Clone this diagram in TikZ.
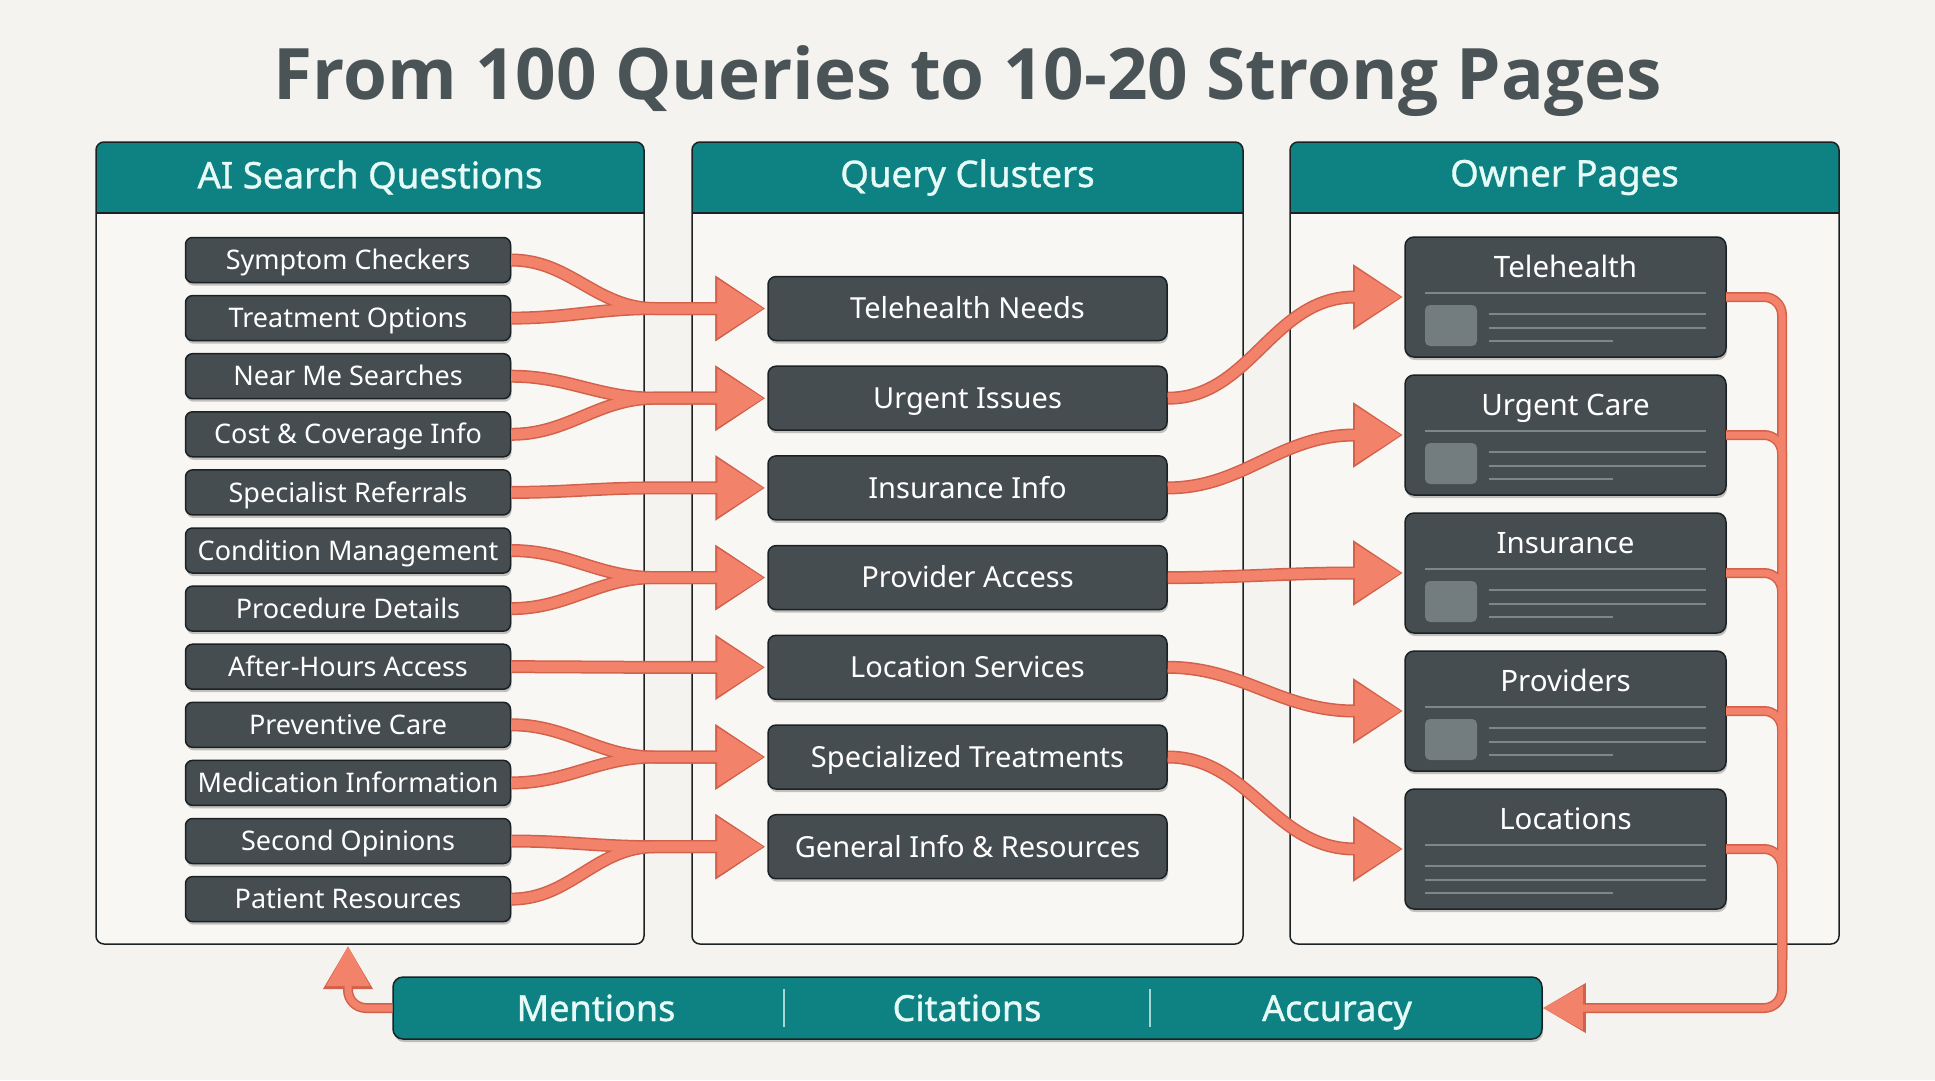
\documentclass[tikz,border=0pt]{standalone}
\usepackage{fontspec}
\setmainfont{Noto Sans}
\newfontfamily\titlefont{Open Sans}
\newfontfamily\medfont[FakeBold=1]{Noto Sans}
\usepackage{tikz}
\usetikzlibrary{arrows.meta,positioning,calc,shadows}
\definecolor{Paper}{HTML}{F4F3EF}
\definecolor{PanelFill}{HTML}{F8F7F3}
\definecolor{Teal}{HTML}{0E8282}
\definecolor{HeadText}{HTML}{E6FBF8}
\definecolor{Slate}{HTML}{454D50}
\definecolor{Rim}{HTML}{1C2224}
\definecolor{Salmon}{HTML}{F2836A}
\definecolor{SalmonDark}{HTML}{D2604A}
\definecolor{Ink}{HTML}{4A5356}
\definecolor{Sheet}{HTML}{7D8689}
\definecolor{Thumb}{HTML}{737C7F}

\begin{document}
\begin{tikzpicture}[x=1pt, y=-1pt]
\tikzset{panel/.style={fill=PanelFill, minimum height=802pt, outer sep=0pt, inner sep=0pt},
 rim/.style={draw=Rim, line width=1.5pt, rounded corners=8pt},
 head/.style={text=HeadText, font=\medfont\fontsize{36.6}{40}\selectfont},
 shade/.style={drop shadow={shadow xshift=1pt, shadow yshift=-3pt, opacity=0.22, fill=black}},
 qbox/.style={draw=Rim, line width=1.5pt, fill=Slate, rounded corners=7pt, text=white, shade, minimum width=325pt, minimum height=45pt, inner sep=0pt, font=\fontsize{27}{30}\selectfont, text height=21.3pt, text depth=2pt},
 cbox/.style={qbox, minimum width=399pt, minimum height=64pt, rounded corners=8pt, font=\fontsize{29}{32}\selectfont, text height=22.7pt, text depth=2pt},
 pbox/.style={draw=Rim, line width=1.5pt, fill=Slate, rounded corners=9pt, shade, minimum width=321pt, minimum height=120pt, outer sep=0pt},
 ptitle/.style={text=white, anchor=base, inner sep=0pt, font=\fontsize{29.5}{32}\selectfont},
 pline/.style={draw=Sheet, line width=2pt},
 thumb/.style={fill=Thumb, rounded corners=5pt},
 bartext/.style={text=HeadText, anchor=base, inner sep=0pt, font=\medfont\fontsize{36}{40}\selectfont},
 flow/.style={draw=Salmon, line width=10pt, shorten >=4pt, -{Triangle[length=46pt, width=56pt]}},
 flowrim/.style={draw=SalmonDark, line width=13pt, shorten >=2pt, -{Triangle[length=50pt, width=62pt]}},
 fb/.style={draw=Salmon, line width=7pt, rounded corners=18pt},
 fbrim/.style={draw=SalmonDark, line width=10pt, rounded corners=18pt},
 fbtip/.style={fb, -{Triangle[length=40pt, width=42pt]}},
 fbrimtip/.style={fbrim, -{Triangle[length=43pt, width=47pt]}}}
\fill[Paper] (0,0) rectangle (1935,1080);
\useasboundingbox (0,0) rectangle (1935,1080);
\node[font=\titlefont\bfseries\fontsize{71}{76}\selectfont, text=Ink, anchor=base] (title) at (967.5,99) {From 100 Queries to 10-20 Strong Pages};
% three columns
\foreach \nm/\cx/\pw/\txt in {lpanel/370/548/AI Search Questions, mpanel/967.5/551/Query Clusters, rpanel/1564.5/549/Owner Pages}{
  \node[panel, minimum width=\pw pt] (\nm) at (\cx,543) {};
  \fill[Teal] ($(\nm.north west)+(0,71)$) [rounded corners=8pt] -- (\nm.north west) -- (\nm.north east) [sharp corners] -- ($(\nm.north east)+(0,71)$) -- cycle;
  \draw[rim] (\nm.south west) rectangle (\nm.north east);
  \draw[Rim, line width=1.5pt] ($(\nm.north west)+(0,71)$) -- ($(\nm.north east)+(0,71)$);
  \node[head] (\nm-head) at ($(\nm.north)+(0,35.5)$) {\txt};
}
% questions
\foreach \txt [count=\i] in {Symptom Checkers, Treatment Options, Near Me Searches, Cost \& Coverage Info, Specialist Referrals, Condition Management, Procedure Details, After-Hours Access, Preventive Care, Medication Information, Second Opinions, Patient Resources}
  \node[qbox] (q\i) at (348,{260+(\i-1)*58.1}) {\txt};
% clusters
\foreach \txt [count=\i] in {Telehealth Needs, Urgent Issues, Insurance Info, Provider Access, Location Services, Specialized Treatments, General Info \& Resources}
  \node[cbox] (c\i) at (967.5,{308.5+(\i-1)*89.7}) {\txt};
% owner pages
\foreach \txt [count=\i] in {Telehealth, Urgent Care, Insurance, Providers, Locations}{
  \node[pbox] (p\i) at (1565.5,{297+(\i-1)*138}) {};
  \node[ptitle] (p\i-title) at ($(p\i.north)+(0,40)$) {\txt};
  \draw[pline] ($(p\i.north west)+(20,56)$) -- ($(p\i.north east)+(-20,56)$);
  \ifnum\i<5
    \fill[thumb] ($(p\i.north west)+(20,68)$) rectangle ($(p\i.north west)+(72,109)$);
    \draw[pline] ($(p\i.north west)+(84,77)$) -- ($(p\i.north east)+(-20,77)$);
    \draw[pline] ($(p\i.north west)+(84,91)$) -- ($(p\i.north east)+(-20,91)$);
    \draw[pline] ($(p\i.north west)+(84,104)$) -- ($(p\i.north west)+(208,104)$);
  \else
    \draw[pline] ($(p\i.north west)+(20,77)$) -- ($(p\i.north east)+(-20,77)$);
    \draw[pline] ($(p\i.north west)+(20,91)$) -- ($(p\i.north east)+(-20,91)$);
    \draw[pline] ($(p\i.north west)+(20,104)$) -- ($(p\i.north west)+(208,104)$);
  \fi
}
% metrics bar
\node[draw=Rim, line width=1.5pt, fill=Teal, rounded corners=10pt, minimum width=1149pt, minimum height=62pt, shade] (bar) at (967.5,1008) {};
\node[bartext] (mentions) at (596,1021) {Mentions};
\node[bartext] (citations) at (967,1021) {Citations};
\node[bartext] (accuracy) at (1337,1021) {Accuracy};
\draw[HeadText!70!Teal, line width=1.5pt] (784,989) -- (784,1027);
\draw[HeadText!70!Teal, line width=1.5pt] (1150,989) -- (1150,1027);
% flows
\foreach \sty in {flowrim, flow}{
  \foreach \s/\t in {1/1, 2/1, 3/2, 4/2, 5/3, 6/4, 7/4, 8/5, 9/6, 10/6, 11/7, 12/7}
    \draw[\sty] (q\s.east) to[out=0,in=180] ($(c\t.west)+(-112,0)$) -- (c\t.west);
  \foreach \s/\t in {2/1, 3/2, 4/3, 5/4, 6/5}
    \draw[\sty] (c\s.east) to[out=0,in=180] ($(p\t.west)+(-50,0)$) -- (p\t.west);
}
% feedback loop
\coordinate (busTop) at (1782,960);
\coordinate (backTip) at (348,946);
\foreach \a/\b in {fbrim/fbrimtip, fb/fbtip}{
  \foreach \k in {2,...,5}
    \draw[\a] (p\k.east) -| (busTop);
  \draw[\b] (p1.east) -| (bar.east -| busTop) -- (bar.east);
  \draw[\b] (bar.west) -| (backTip);
}
\end{tikzpicture}
\end{document}
